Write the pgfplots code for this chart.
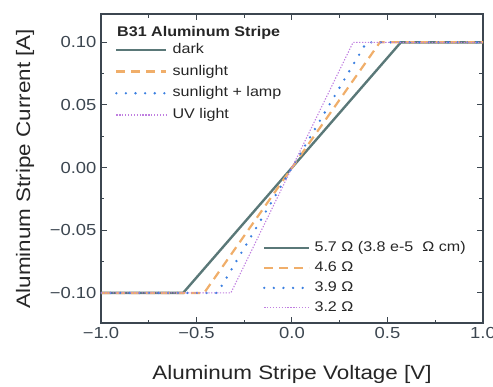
\documentclass[border=0pt]{standalone}
\usepackage{pgfplots}
\pgfplotsset{compat=1.18}
\usepackage{fontspec}
\setmainfont[FakeStretch=1.15]{Liberation Sans}
\definecolor{cdark}{HTML}{5A7878}
\definecolor{csun}{HTML}{F0AE6A}
\definecolor{clamp}{HTML}{3A7FE0}
\definecolor{cuv}{HTML}{C07FE0}
\definecolor{caxis}{HTML}{3C4650}
\tikzset{
  sdark/.style={cdark, line width=2.4pt},
  ssun/.style={csun, line width=2.2pt, dash pattern=on 9pt off 6pt},
  slamp/.style={clamp, line width=2.6pt, line cap=round, dash pattern=on 0pt off 9.6pt},
  suv/.style={cuv, line width=1.1pt, dash pattern=on 1.3pt off 1.6pt},
}
\begin{document}
\begin{tikzpicture}
\pgfplotsset{
  myax/.style={
    scale only axis, width=382pt, height=309pt,
    at={(0,0)}, anchor=south west,
    xmin=-1, xmax=1, ymin=-0.124, ymax=0.1226,
  }
}
\begin{axis}[myax,
  axis line style={caxis, line width=1.1pt},
  every tick/.style={caxis, line width=1pt},
  xtick={-1,-0.5,0,0.5,1}, xticklabels={−1.0,−0.5,0.0,0.5,1.0},
  ytick={-0.1,-0.05,0,0.05,0.1}, yticklabels={−0.10,−0.05,0.00,0.05,0.10},
  minor tick num=1,
  tick align=inside, major tick length=6pt, minor tick length=3.5pt,
  ticklabel style={font=\fontsize{16}{16}\selectfont, text=caxis},
  xticklabel style={yshift=-1pt},
  yticklabel style={xshift=-1pt},
  xlabel={Aluminum Stripe Voltage [V]},
  ylabel={Aluminum Stripe Current [A]},
  label style={font=\fontsize{19.5}{20}\selectfont, text=black!85},
  xlabel style={at={(axis description cs:0.5,-0.165)}, anchor=center},
  ylabel style={at={(axis description cs:-0.199,0.5)}, anchor=center},
  legend image code/.code={\draw[#1] (0pt,0pt) -- (50pt,0pt);},
  legend style={at={(axis description cs:0.0367,0.905)}, anchor=north west,
    draw=none, fill=none, inner sep=0pt, outer sep=0pt,
    font=\fontsize{14}{14}\selectfont, row sep=8.7pt, column sep=5pt,
    nodes={inner sep=0pt, text height=10pt, text depth=3pt, text=black!85}},
  legend cell align=left,
]
\addplot[sdark] coordinates {(-1,-0.1) (-0.57,-0.1) (0.57,0.1) (1,0.1)};
\addlegendentry{dark}
\addplot[ssun] coordinates {(-1,-0.1) (-0.46,-0.1) (0.46,0.1) (1,0.1)};
\addlegendentry{sunlight}
\addplot[slamp] coordinates {(-1,-0.1) (-0.39,-0.1) (0.39,0.1) (1,0.1)};
\addlegendentry{sunlight + lamp}
\addplot[suv] coordinates {(-1,-0.1) (-0.32,-0.1) (0.32,0.1) (1,0.1)};
\addlegendentry{UV light}
\node[anchor=west, inner sep=0pt, font=\fontsize{14}{14}\selectfont\bfseries, text=black!85]
  at (axis description cs:0.042,0.938) {B31 Aluminum Stripe};
\end{axis}
\begin{axis}[myax, hide axis,
  legend image code/.code={\draw[#1] (0pt,0pt) -- (45pt,0pt);},
  legend style={at={(axis description cs:0.424,0.264)}, anchor=north west,
    draw=none, fill=none, inner sep=0pt, outer sep=0pt,
    font=\fontsize{14}{14}\selectfont, row sep=7pt, column sep=4pt,
    nodes={inner sep=0pt, text height=10pt, text depth=3pt, text=black!85}},
  legend cell align=left,
]
\addplot[draw=none, forget plot] coordinates {(0,0)};
\addlegendimage{sdark}
\addlegendentry{5.7 Ω (3.8 e-5\ \ Ω cm)}
\addlegendimage{ssun}
\addlegendentry{4.6 Ω}
\addlegendimage{slamp}
\addlegendentry{3.9 Ω}
\addlegendimage{suv}
\addlegendentry{3.2 Ω}
\end{axis}
\pgfresetboundingbox
\path (-101pt,-63pt) rectangle (392pt,323pt);
\end{tikzpicture}
\end{document}
